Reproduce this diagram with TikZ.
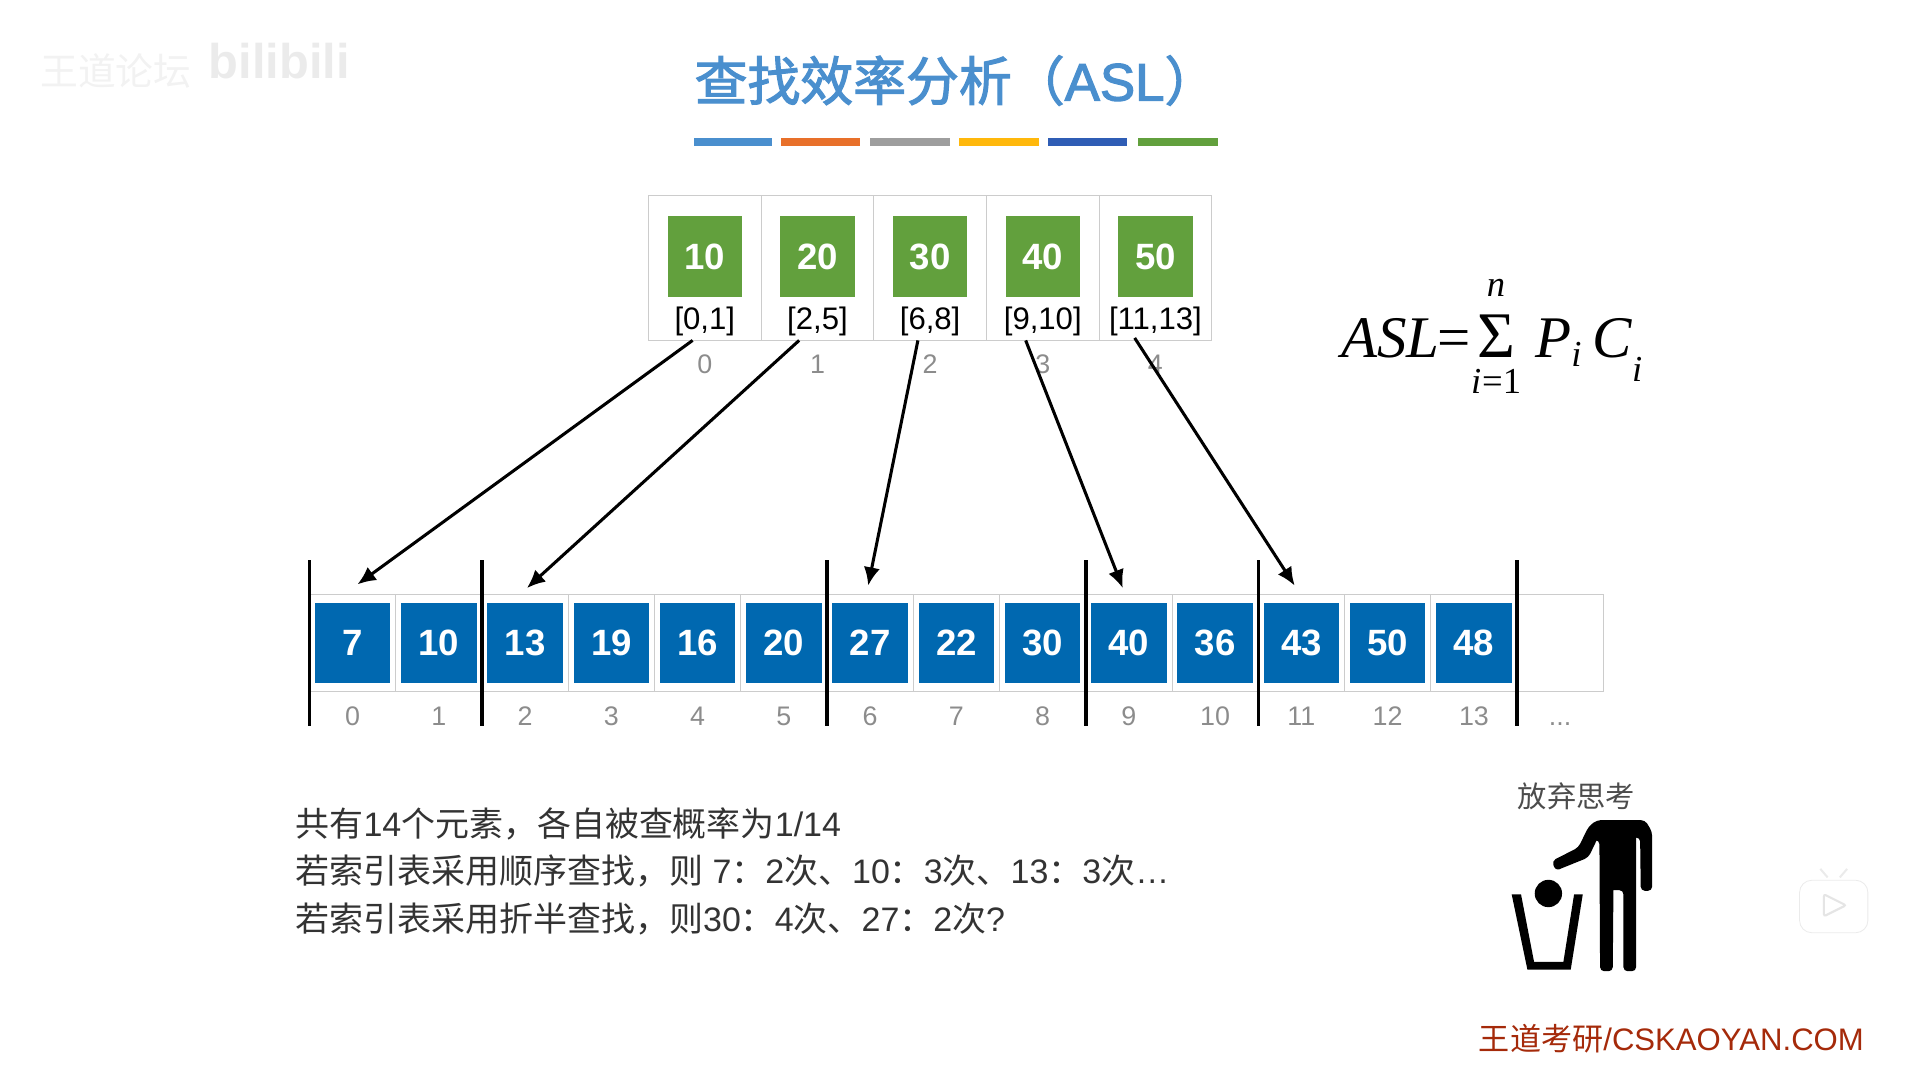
\documentclass[tikz,border=0pt]{standalone}
\usepackage{amsmath}
\usepackage{fontspec}
\setmainfont{Liberation Sans}
\newfontfamily\cjk{Noto Sans CJK SC}
\newfontfamily\tms{Liberation Serif}
\newfontfamily\titlecjk[FakeBold=2.2]{Noto Sans CJK SC}
\newfontfamily\titlelat[FakeBold=2.2]{Liberation Sans}
\newcommand{\zh}[1]{{\cjk #1}}
\newcommand{\fsz}[1]{\fontsize{#1}{#1}\selectfont}
\usetikzlibrary{arrows.meta,positioning}
\definecolor{titleblue}{HTML}{4A8FCE}
\definecolor{baroran}{HTML}{E8702A}
\definecolor{bargray}{HTML}{9E9E9E}
\definecolor{baryell}{HTML}{FFB80C}
\definecolor{bardark}{HTML}{2F5DB5}
\definecolor{blockgreen}{HTML}{62A03D}
\definecolor{cellblue}{HTML}{0068B0}
\definecolor{footred}{HTML}{A52A0A}

\begin{document}
\begin{tikzpicture}[
    x=0.6pt, y=-0.6pt,
    node distance=0pt,
    colorbar/.style={inner sep=0pt, minimum height=4.2pt},
    idxcell/.style={draw=black!20, inner sep=0pt, outer sep=0pt,
      minimum width=55.4pt, minimum height=71.4pt},
    idxblock/.style={fill=blockgreen, text=white, inner sep=0pt,
      minimum width=36.6pt, minimum height=39.6pt, font=\bfseries\fsz{18}},
    rangelabel/.style={inner sep=0pt, font=\fsz{15.3}},
    arrcell/.style={draw=black!20, inner sep=0pt, outer sep=0pt,
      minimum width=42.42pt, minimum height=48pt},
    arrblock/.style={fill=cellblue, text=white, inner sep=0pt,
      minimum width=37.2pt, minimum height=39.6pt, font=\bfseries\fsz{18}},
    numlabel/.style={inner sep=0pt, text=black!45, text height=9.6pt, font=\fsz{13.2}},
    noteline/.style={anchor=west, inner sep=0pt, text=black!80, font=\fsz{16.7}},
    arrow/.style={-{Latex[length=9pt,width=8pt]}, line width=1.5pt},
    sepbar/.style={line width=1.7pt}
  ]
  \useasboundingbox (0,0) rectangle (1568,873);

  % faint marks of the video
  \node[inner sep=0pt, text=black!5, font=\fsz{18.6}] (forum) at (95,58) {\zh{王道论坛}};
  \node[inner sep=0pt, text=black!8, font=\bfseries\fsz{24}] (bililogo) at (229,50) {bilibili};
  \node[draw=black!8, fill=white, rounded corners=6pt, inner sep=0pt,
    minimum width=33.6pt, minimum height=25.8pt] (tvicon) at (1503,743) {};
  \draw[draw=black!8, line width=1pt] (tvicon.north) ++(-5,-2) -- ++(-6,-7);
  \draw[draw=black!8, line width=1pt] (tvicon.north) ++(5,-2) -- ++(6,-7);
  \draw[draw=black!10, line width=1pt, rounded corners=1pt]
    (1495,733) -- (1495,751) -- (1513,742) -- cycle;

  % title
  \node[anchor=west, inner sep=0pt, text=titleblue, font=\fsz{26}] (title) at (569,66)
    {{\titlecjk 查找效率分析（}{\titlelat ASL}{\titlecjk ）}};
  \node[colorbar, fill=titleblue, minimum width=38.4pt] (bar1) at (601,116.5) {};
  \node[colorbar, fill=baroran, minimum width=39pt] (bar2) at (672.5,116.5) {};
  \node[colorbar, fill=bargray, minimum width=39.6pt] (bar3) at (746,116.5) {};
  \node[colorbar, fill=baryell, minimum width=39.6pt] (bar4) at (819,116.5) {};
  \node[colorbar, fill=bardark, minimum width=39pt] (bar5) at (891.5,116.5) {};
  \node[colorbar, fill=blockgreen, minimum width=39pt] (bar6) at (965.5,116.5) {};

  % index table
  \node[idxcell] (t0) at (577.7,219.5) {};
  \node[idxcell, right=of t0] (t1) {};
  \node[idxcell, right=of t1] (t2) {};
  \node[idxcell, right=of t2] (t3) {};
  \node[idxcell, right=of t3] (t4) {};

  \node[idxblock, below=10.2pt of t0.north] (g0) {10};
  \node[idxblock, below=10.2pt of t1.north] (g1) {20};
  \node[idxblock, below=10.2pt of t2.north] (g2) {30};
  \node[idxblock, below=10.2pt of t3.north] (g3) {40};
  \node[idxblock, below=10.2pt of t4.north] (g4) {50};

  \node[rangelabel, above=2.2pt of t0.south] (r0) {[0,1]};
  \node[rangelabel, above=2.2pt of t1.south] (r1) {[2,5]};
  \node[rangelabel, above=2.2pt of t2.south] (r2) {[6,8]};
  \node[rangelabel, above=2.2pt of t3.south] (r3) {[9,10]};
  \node[rangelabel, above=2.2pt of t4.south] (r4) {[11,13]};

  \node[numlabel, below=6.6pt of t0] (ti0) {0};
  \node[numlabel, below=6.6pt of t1] (ti1) {1};
  \node[numlabel, below=6.6pt of t2] (ti2) {2};
  \node[numlabel, below=6.6pt of t3] (ti3) {3};
  \node[numlabel, below=6.6pt of t4] (ti4) {4};

  % formula
  \node[inner sep=0pt, anchor=base west] (asl) at (1099,293) {\tms\fsz{29}%
    $\hbox{\itshape ASL\kern-1pt}\hbox{=}\kern-4pt\displaystyle\mathop{\hbox{\fsz{32}Σ}}%
    \limits_{\hbox{\fsz{18}\rule{0pt}{13.4pt}\itshape i\kern0.5pt\upshape=1}}%
    ^{\hbox{\vbox{\hbox{\fsz{18}\itshape n}\kern4pt}}}$%
    \kern7pt{\itshape P}\raisebox{-4.5pt}{\fsz{18}\itshape i}\kern5.5pt{\itshape C}%
    \kern0pt\raisebox{-12pt}{\fsz{18}\itshape i}};

  % main array
  \node[arrcell] (a0) at (289,527) {};
  \node[arrcell, right=of a0] (a1) {};
  \node[arrcell, right=of a1] (a2) {};
  \node[arrcell, right=of a2] (a3) {};
  \node[arrcell, right=of a3] (a4) {};
  \node[arrcell, right=of a4] (a5) {};
  \node[arrcell, right=of a5] (a6) {};
  \node[arrcell, right=of a6] (a7) {};
  \node[arrcell, right=of a7] (a8) {};
  \node[arrcell, right=of a8] (a9) {};
  \node[arrcell, right=of a9] (a10) {};
  \node[arrcell, right=of a10] (a11) {};
  \node[arrcell, right=of a11] (a12) {};
  \node[arrcell, right=of a12] (a13) {};
  \node[arrcell, right=of a13] (a14) {};

  \node[arrblock] (b0) at (a0) {7};
  \node[arrblock] (b1) at (a1) {10};
  \node[arrblock] (b2) at (a2) {13};
  \node[arrblock] (b3) at (a3) {19};
  \node[arrblock] (b4) at (a4) {16};
  \node[arrblock] (b5) at (a5) {20};
  \node[arrblock] (b6) at (a6) {27};
  \node[arrblock] (b7) at (a7) {22};
  \node[arrblock] (b8) at (a8) {30};
  \node[arrblock] (b9) at (a9) {40};
  \node[arrblock] (b10) at (a10) {36};
  \node[arrblock] (b11) at (a11) {43};
  \node[arrblock] (b12) at (a12) {50};
  \node[arrblock] (b13) at (a13) {48};

  \node[numlabel, below=6.6pt of a0] (ai0) {0};
  \node[numlabel, below=6.6pt of a1] (ai1) {1};
  \node[numlabel, below=6.6pt of a2] (ai2) {2};
  \node[numlabel, below=6.6pt of a3] (ai3) {3};
  \node[numlabel, below=6.6pt of a4] (ai4) {4};
  \node[numlabel, below=6.6pt of a5] (ai5) {5};
  \node[numlabel, below=6.6pt of a6] (ai6) {6};
  \node[numlabel, below=6.6pt of a7] (ai7) {7};
  \node[numlabel, below=6.6pt of a8] (ai8) {8};
  \node[numlabel, below=6.6pt of a9] (ai9) {9};
  \node[numlabel, below=6.6pt of a10] (ai10) {10};
  \node[numlabel, below=6.6pt of a11] (ai11) {11};
  \node[numlabel, below=6.6pt of a12] (ai12) {12};
  \node[numlabel, below=6.6pt of a13] (ai13) {13};
  \node[numlabel, below=6.6pt of a14] (ai14) {...};

  % block limits
  \draw[sepbar] ([shift={(0,-28)}]a0.north west) -- ([shift={(0,28)}]a0.south west);
  \draw[sepbar] ([shift={(0,-28)}]a2.north west) -- ([shift={(0,28)}]a2.south west);
  \draw[sepbar] ([shift={(0,-28)}]a6.north west) -- ([shift={(0,28)}]a6.south west);
  \draw[sepbar] ([shift={(0,-28)}]a9.north west) -- ([shift={(0,28)}]a9.south west);
  \draw[sepbar] ([shift={(0,-28)}]a11.north west) -- ([shift={(0,28)}]a11.south west);
  \draw[sepbar] ([shift={(0,-28)}]a14.north west) -- ([shift={(0,28)}]a14.south west);

  \draw[arrow] ([shift={(-10,0)}]t0.south) -- ([shift={(4,-8)}]a0.north);
  \draw[arrow] ([shift={(-15,0)}]t1.south) -- ([shift={(1.5,-5)}]a2.north);
  \draw[arrow] ([shift={(-10,0)}]t2.south) -- ([shift={(-1.6,-7)}]a6.north);
  \draw[arrow] ([shift={(-14,0)}]t3.south) -- ([shift={(-5,-5)}]a9.north);
  \draw[arrow] ([shift={(-17,-2)}]t4.south) -- ([shift={(-5.5,-7)}]a11.north);

  % notes
  \node[noteline] (note1) at (242,675) {\zh{共有}14\zh{个元素，各自被查概率为}1/14};
  \node[noteline] (note2) at (242,714) {\zh{若索引表采用顺序查找，则} 7\zh{：}2\zh{次、}10\zh{：}3\zh{次、}13\zh{：}3\zh{次}…};
  \node[noteline] (note3) at (242,753) {\zh{若索引表采用折半查找，则}30\zh{：}4\zh{次、}27\zh{：}2\zh{次}?};

  % bin icon
  \node[inner sep=0pt, text=black!70, font=\fsz{14.4}] (giveup) at (1292,653) {\zh{放弃思考}};
  \begin{scope}[shift={(1188.5,623)}, x=0.164pt, y=-0.164pt]
    \fill[rounded corners=2pt] (306,302) -- (385,262) -- (415,200) -- (440,180)
      -- (585,180) -- (606,215) -- (606,392) -- (572,392) -- (570,232) [sharp corners]
      -- (558,232) [rounded corners=2pt] -- (558,633) -- (520,633) -- (520,390) [sharp corners]
      -- (490,390) [rounded corners=2pt] -- (488,633) -- (450,633) -- (448,240) [sharp corners]
      -- (440,240) [rounded corners=2pt] -- (415,292) -- (316,332) -- cycle;
    \fill (295,400) circle[radius=41];
    \fill (185,403) -- (213,403) -- (252,605) -- (340,605) -- (372,403) -- (398,403)
      -- (362,628) -- (232,628) -- cycle;
  \end{scope}

  % footer
  \node[anchor=east, inner sep=0pt, text=footred, font=\fsz{15.3}] (footer) at (1528,851)
    {\zh{王道考研}/CSKAOYAN.COM};
\end{tikzpicture}
\end{document}
